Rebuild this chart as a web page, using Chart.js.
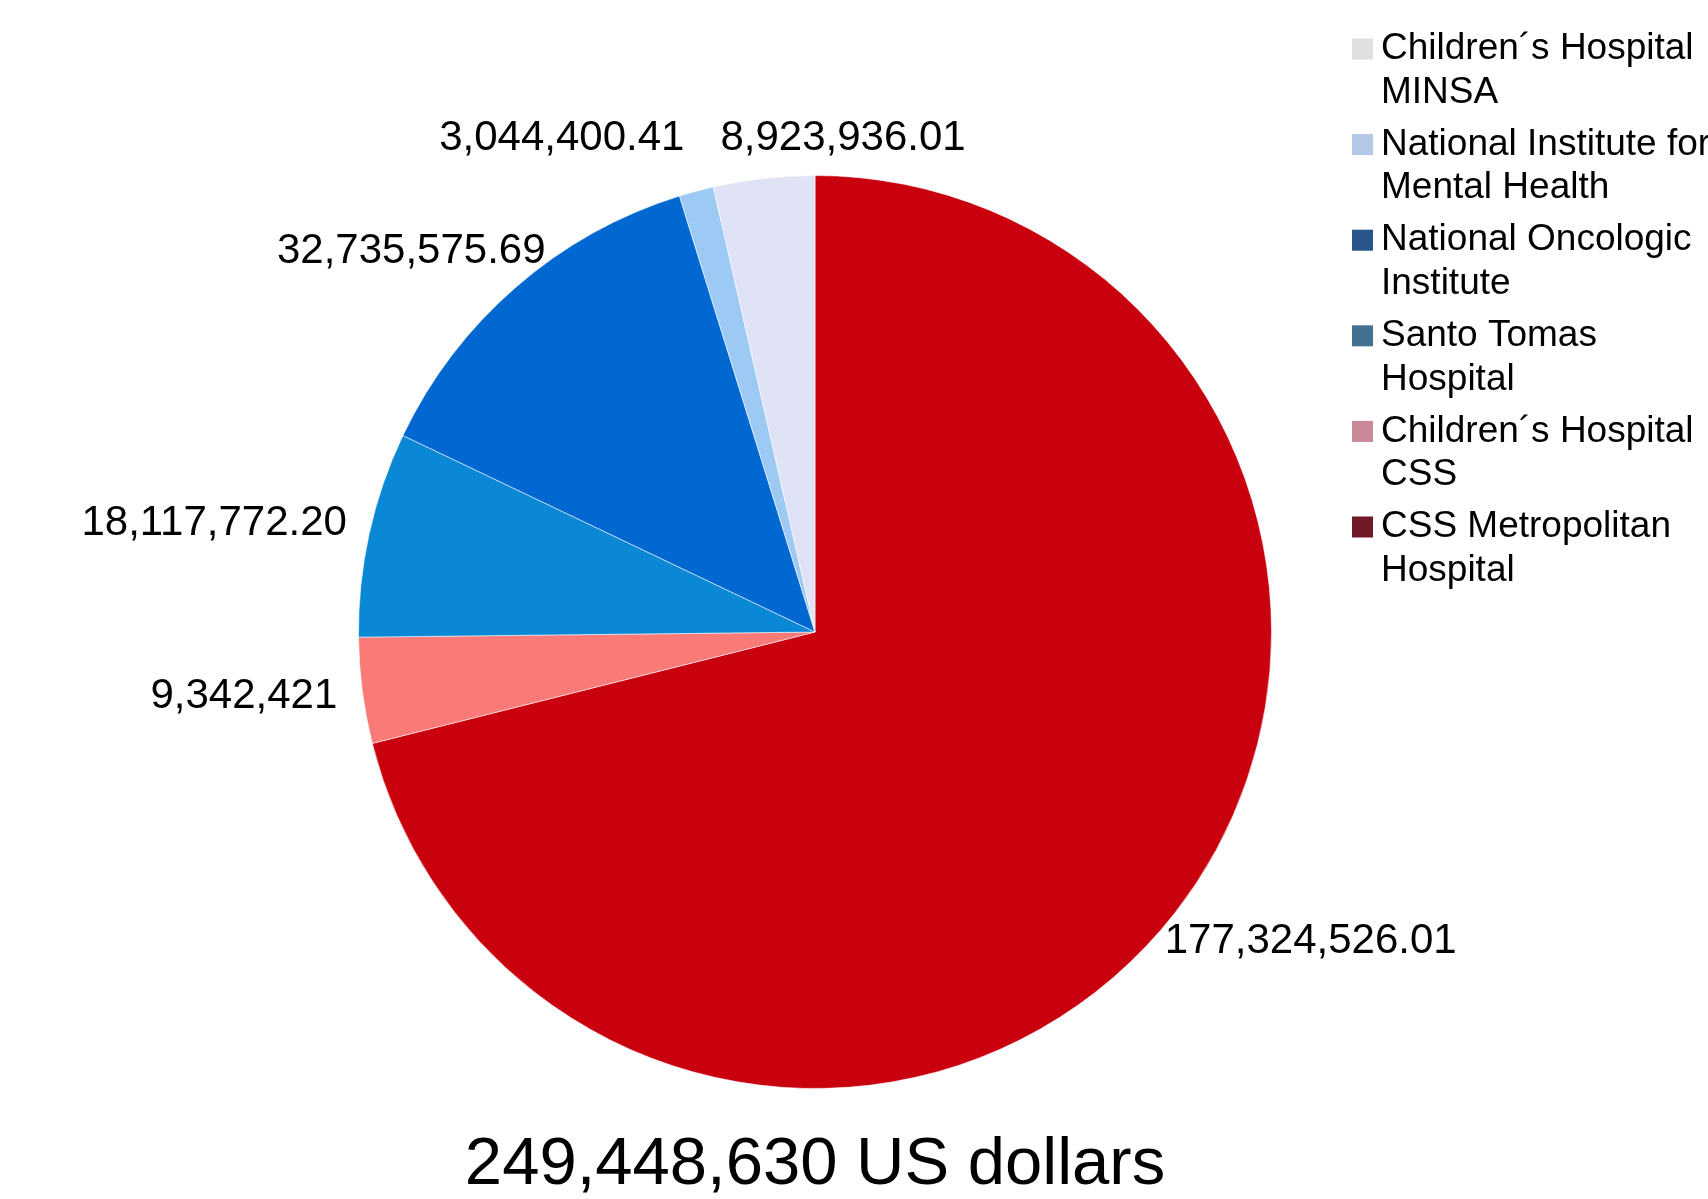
<!DOCTYPE html>
<html>
<head>
<meta charset="utf-8">
<title>Hospital spending</title>
<script src="https://cdn.jsdelivr.net/npm/chart.js@4.4.1/dist/chart.umd.min.js"></script>
<style>
    html, body { margin: 0; padding: 0; background: #fff; overflow: hidden; }
    #chart { display: block; }
</style>
</head>
<body>
<canvas id="chart" width="1708" height="1199"></canvas>
<script>
// Slices go clockwise from 12 o'clock
const hospitals = [
    ['CSS Metropolitan', 'Hospital'],
    ['Children´s Hospital', 'CSS'],
    ['Santo Tomas', 'Hospital'],
    ['National Oncologic', 'Institute'],
    ['National Institute for', 'Mental Health'],
    ['Children´s Hospital', 'MINSA']
];
const amounts = [177324526.01, 9342421, 18117772.20, 32735575.69, 3044400.41, 8923936.01];
const totalText = '249,448,630 US dollars';

const sliceColors = ['#c9000e', '#fa7a78', '#0a88d6', '#0068d0', '#9ccaf5', '#dfe3f5'];
const swatchColors = ['#701828', '#c88898', '#43718f', '#28558a', '#b4c8e8', '#e0e0e0'];

const FONT = '"Liberation Sans", Arial, sans-serif';

function formatAmount(v) {
    const decimals = Number.isInteger(v) ? 0 : 2;
    return v.toLocaleString('en-US', { minimumFractionDigits: decimals, maximumFractionDigits: decimals });
}

// value labels just outside each slice, nudged apart when they collide
const sliceLabels = {
    id: 'sliceLabels',
    afterDatasetsDraw(chart) {
        const ctx = chart.ctx;
        const size = 42;
        const gap = 26;
        ctx.save();
        ctx.font = `${size}px ${FONT}`;
        const boxes = chart.getDatasetMeta(0).data.map((arc, i) => {
            const p = arc.getProps(['x', 'y', 'startAngle', 'endAngle', 'outerRadius'], true);
            const mid = (p.startAngle + p.endAngle) / 2;
            const ux = Math.cos(mid), uy = Math.sin(mid);
            const text = formatAmount(amounts[i]);
            const w = ctx.measureText(text).width;
            const r = p.outerRadius + gap;
            return {
                text, w, h: size,
                cx: p.x + ux * r + ux * w / 2,
                cy: p.y + uy * r + uy * size / 2
            };
        });
        for (let a = 0; a < boxes.length; a++) {
            for (let b = a + 1; b < boxes.length; b++) {
                const A = boxes[a], B = boxes[b];
                const overlapX = (A.w + B.w) / 2 + 36 - Math.abs(A.cx - B.cx);
                const overlapY = (A.h + B.h) / 2 - Math.abs(A.cy - B.cy);
                if (overlapX > 0 && overlapY > 0) {
                    const left = A.cx <= B.cx ? A : B;
                    const right = left === A ? B : A;
                    left.cx -= overlapX / 2;
                    right.cx += overlapX / 2;
                    const y = (A.cy + B.cy) / 2;
                    A.cy = y;
                    B.cy = y;
                }
            }
        }
        ctx.fillStyle = '#000';
        ctx.textAlign = 'center';
        ctx.textBaseline = 'middle';
        boxes.forEach(bx => ctx.fillText(bx.text, bx.cx, bx.cy));
        ctx.restore();
    }
};

// legend in the top right corner, listed bottom slice first
const sideLegend = {
    id: 'sideLegend',
    afterDraw(chart) {
        const ctx = chart.ctx;
        const x = 1352, textX = 1381, top = 49, step = 95.6, lineH = 43.6, box = 21;
        ctx.save();
        ctx.font = `37px ${FONT}`;
        ctx.textAlign = 'left';
        ctx.textBaseline = 'middle';
        const order = hospitals.map((_, i) => i).reverse();
        order.forEach((idx, row) => {
            const y = top + row * step;
            ctx.fillStyle = swatchColors[idx];
            ctx.fillRect(x, y - box / 2, box, box);
            ctx.fillStyle = '#000';
            hospitals[idx].forEach((line, k) => ctx.fillText(line, textX, y + k * lineH));
        });
        ctx.restore();
    }
};

new Chart(document.getElementById('chart'), {
    type: 'pie',
    data: {
        labels: hospitals,
        datasets: [{
            data: amounts,
            backgroundColor: sliceColors,
            borderColor: 'rgba(255,255,255,0.55)',
            borderWidth: 1
        }]
    },
    options: {
        responsive: false,
        animation: false,
        layout: { padding: { left: 358, right: 436, top: 175, bottom: 0 } },
        plugins: {
            legend: { display: false },
            tooltip: { enabled: false },
            title: {
                display: true,
                position: 'bottom',
                text: totalText,
                color: '#000',
                font: { family: FONT, size: 67, weight: 'normal', lineHeight: 1 },
                padding: { top: 43, bottom: 0 }
            }
        }
    },
    plugins: [sliceLabels, sideLegend]
});
</script>
</body>
</html>
